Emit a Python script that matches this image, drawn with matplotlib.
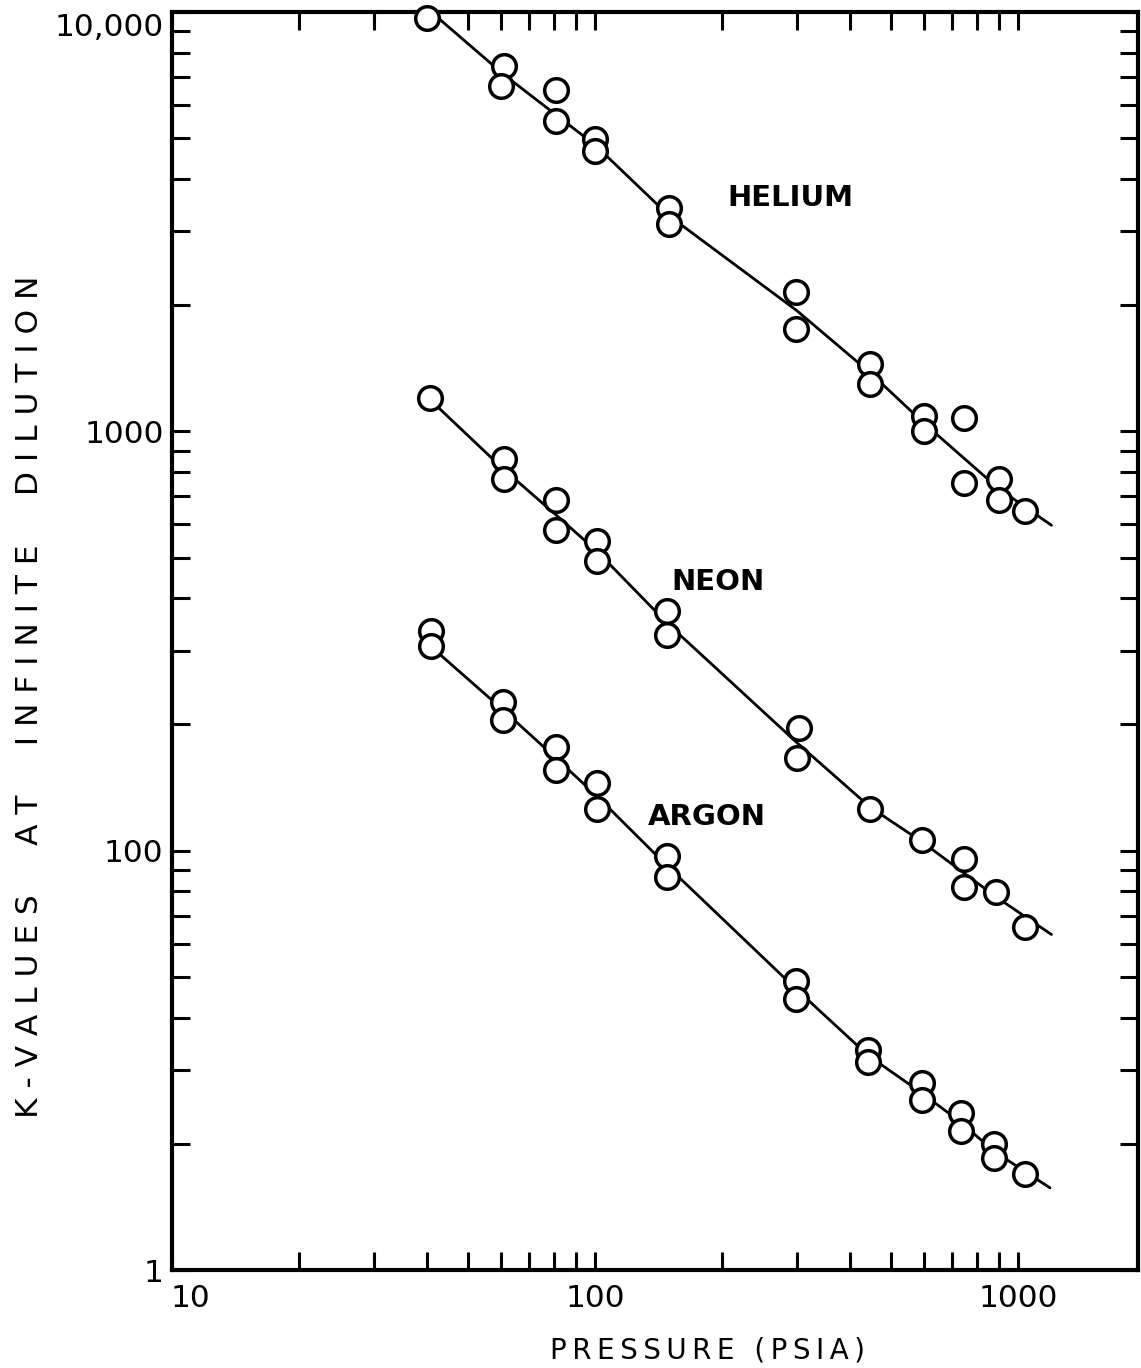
import numpy as np
import matplotlib
matplotlib.use('Agg')
from matplotlib import pyplot as plt
from matplotlib.transforms import ScaledTranslation
from matplotlib.ticker import LogLocator, NullFormatter, FixedLocator

# measured points, pressure (psia) vs K-value
helium_p = [40, 61, 60, 81, 81, 100, 100, 150, 150, 298, 298, 447, 447, 600, 600, 745, 745, 902, 902, 1040]
helium_k = [9700, 7440, 6670, 6520, 5500, 4990, 4670, 3400, 3130, 2150, 1750, 1450, 1300, 1090, 1000, 1075, 751, 770, 685, 646]

neon_p = [40.7, 61, 61, 81, 81, 101, 101, 148, 148, 303, 300, 447, 593, 745, 745, 887, 1040]
neon_k = [1200, 857, 770, 685, 581, 547, 490, 373, 327, 196, 166, 126, 106, 95.3, 82, 79.8, 65.6]

argon_p = [41, 41, 60.5, 60.5, 81, 81, 101, 101, 148, 148, 298, 298, 442, 442, 593, 593, 733, 733, 877, 877, 1040]
argon_k = [334, 307, 226, 205, 177, 156, 145, 126, 97.3, 86.6, 49, 44.2, 33.4, 31.3, 27.9, 25.4, 23.7, 21.4, 20.0, 18.5, 16.9]

# hand-drawn correlation curves
helium_line_p = [41, 61, 100, 150, 300, 447, 600, 900, 1200]
helium_line_k = [10000, 7080, 4820, 3260, 1940, 1380, 1045, 730, 597]

neon_line_p = [40.7, 60.7, 81, 101, 148, 300, 447, 593, 887, 1200]
neon_line_k = [1191, 813, 631, 518, 349, 181, 127, 105, 77.6, 63.1]

argon_line_p = [40.3, 60.5, 81, 101, 148, 298, 442, 590, 733, 877, 1190]
argon_line_k = [311, 217, 166, 135, 92, 46.9, 32.5, 26.5, 22.5, 19.2, 15.7]

gas_names = ['HELIUM', 'NEON', 'ARGON']
name_pos = [(289, 3600), (195, 437), (184, 120)]

y_ticks = [10, 100, 1000, 10000]
y_labels = ['1', '100', '1000', '10,000']
x_ticks = [10, 100, 1000]
x_labels = ['10', '100', '1000']

W, H = 1141, 1368
fig = plt.figure(figsize=(W / 100, H / 100), dpi=100)
ax = fig.add_axes([172 / W, (H - 1270) / H, (1138 - 172) / W, (1270 - 12) / H])
ax.set_xscale('log')
ax.set_yscale('log')
ax.set_xlim(10, 10 ** (1 + 966 / 423))
ax.set_ylim(10, 10000)

for lp, lk, p, k in [(helium_line_p, helium_line_k, helium_p, helium_k),
                     (neon_line_p, neon_line_k, neon_p, neon_k),
                     (argon_line_p, argon_line_k, argon_p, argon_k)]:
    ax.plot(lp, lk, color='black', lw=2.0, zorder=2, solid_capstyle='round')
    ax.plot(p, k, 'o', ms=17, mfc='white', mec='black', mew=2.5, zorder=3, clip_on=False)

for name, (px, ky) in zip(gas_names, name_pos):
    ax.text(px, ky, name, fontsize=21, ha='center', va='center', fontweight='bold')

for s in ax.spines.values():
    s.set_linewidth(3)

ax.xaxis.set_major_locator(FixedLocator(x_ticks))
ax.set_xticklabels(x_labels)
ax.xaxis.set_minor_locator(LogLocator(base=10, subs=np.arange(2, 10)))
ax.xaxis.set_minor_formatter(NullFormatter())
ax.yaxis.set_major_locator(FixedLocator(y_ticks))
ax.set_yticklabels(y_labels)
ax.yaxis.set_minor_locator(LogLocator(base=10, subs=np.arange(2, 10)))
ax.yaxis.set_minor_formatter(NullFormatter())

ax.tick_params(which='both', direction='in', length=13, width=2.2, top=True, right=True,
               labelsize=22.5, color='black')
ax.tick_params(axis='y', pad=6)
ax.tick_params(axis='x', pad=10)

# the scanned labels sit a little off their ticks
lbls = ax.get_yticklabels()
lbls[-1].set_transform(lbls[-1].get_transform() + ScaledTranslation(0, -0.13, fig.dpi_scale_trans))
xl = ax.get_xticklabels()
xl[0].set_transform(xl[0].get_transform() + ScaledTranslation(0.18, 0, fig.dpi_scale_trans))

thin = '\u2009'
fig.text(707 / W, 1 - 1350 / H, thin.join('PRESSURE (PSIA)'), fontsize=20,
         ha='center', va='center')
fig.text(30 / W, 1 - 697 / H, 'K - V A L U E S     A T     I N F I N I T E     D I L U T I O N',
         fontsize=22.5, rotation=90, ha='center', va='center')

fig.savefig('out.png', dpi=100)
